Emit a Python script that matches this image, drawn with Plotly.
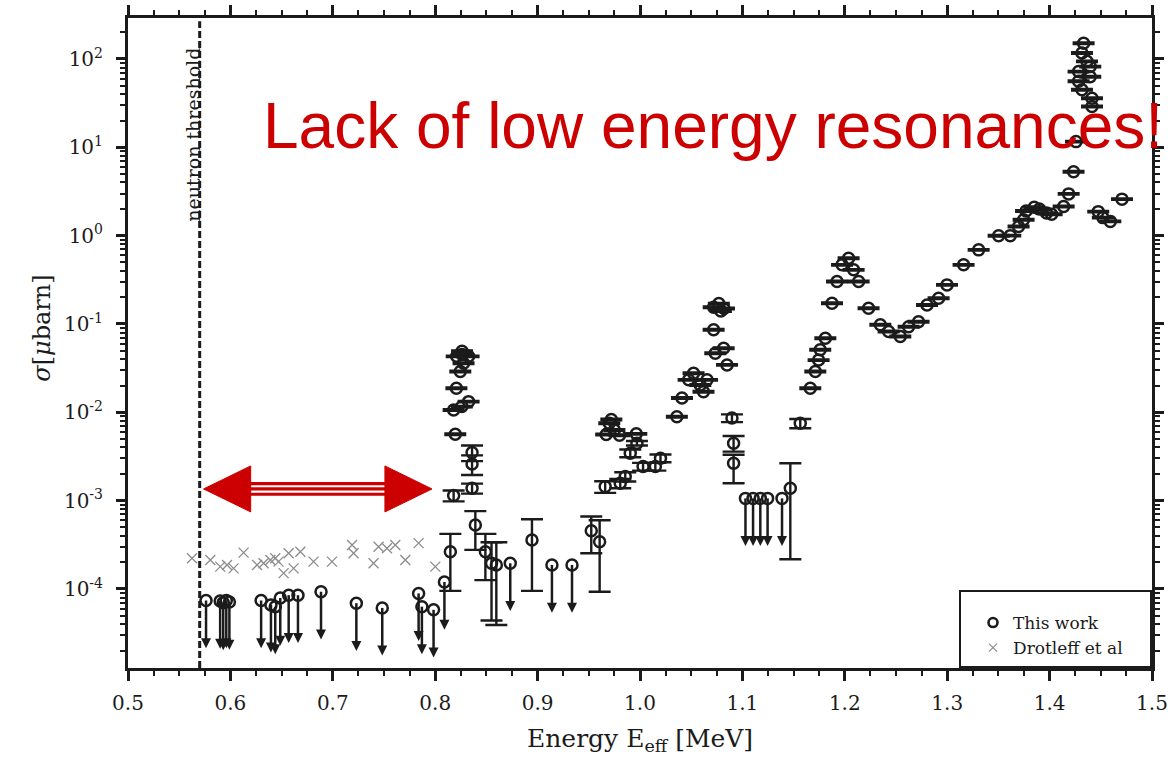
import plotly.graph_objects as go

# ---------------------------------------------------------------------------
# Data: cross section sigma [micro-barn] versus effective energy [MeV]
# ---------------------------------------------------------------------------

# This work: resolved points with small (symmetric, relative) uncertainties
tw_energy = [0.818, 0.836, 0.836, 0.836, 0.8196, 0.818, 0.826, 0.8326, 0.8207, 0.8245,
             0.8277, 0.821, 0.8262, 0.8326, 0.8262,
             0.966, 0.9807, 0.9856, 1.003, 1.015, 1.020, 0.9905, 0.997, 0.9964, 0.967,
             0.970, 0.972, 0.975, 0.980,
             1.036, 1.041, 1.0475, 1.0523, 1.0589, 1.062, 1.0655, 1.0719, 1.0735, 1.0817,
             1.085, 1.072, 1.077, 1.082, 1.079, 1.0898,
             1.1565, 1.1663, 1.1712, 1.1744, 1.176, 1.181, 1.1875, 1.1924, 1.1973, 1.2037,
             1.2086, 1.2135, 1.2232, 1.2347, 1.2428, 1.2542, 1.2623, 1.272, 1.2803, 1.2916,
             1.2998, 1.316, 1.3307, 1.3502, 1.3616, 1.3697, 1.3746, 1.377, 1.385, 1.390,
             1.397, 1.402, 1.4137, 1.4186, 1.4234, 1.4258, 1.4283, 1.4283, 1.4316, 1.4316,
             1.4332, 1.4365, 1.4397, 1.4397, 1.4414, 1.4414, 1.4475, 1.452, 1.4593, 1.4707]
tw_sigma = [1.14e-3, 1.38e-3, 2.6e-3, 3.5e-3, 5.65e-3, 1.06e-2, 1.16e-2, 1.32e-2, 1.87e-2, 2.89e-2,
            3.6e-2, 4.3e-2, 4.5e-2, 4.3e-2, 4.9e-2,
            1.44e-3, 1.57e-3, 1.87e-3, 2.43e-3, 2.43e-3, 3.02e-3, 3.44e-3, 4.47e-3, 5.7e-3, 5.6e-3,
            7.5e-3, 8.3e-3, 6.3e-3, 5.5e-3,
            8.9e-3, 1.45e-2, 2.33e-2, 2.77e-2, 2.04e-2, 1.71e-2, 2.33e-2, 8.6e-2, 4.66e-2, 5.3e-2,
            3.44e-2, 0.155, 0.17, 0.15, 0.14, 8.6e-3,
            7.5e-3, 1.87e-2, 2.89e-2, 3.9e-2, 5.1e-2, 6.9e-2, 0.172, 0.302, 0.467, 0.556,
            0.41, 0.302, 0.151, 0.098, 0.082, 0.072, 0.093, 0.106, 0.164, 0.196,
            0.277, 0.467, 0.69, 0.995, 1.0, 1.27, 1.51, 1.9, 2.1, 2.0,
            1.8, 1.75, 2.14, 2.97, 5.3, 11.6, 56.0, 72.0, 44.8, 117.0,
            151.0, 94.0, 82.0, 63.0, 36.0, 29.0, 1.87, 1.6, 1.45, 2.59]
tw_rel_err = [0.14, 0.13, 0.25, 0.20, 0.02, 0.02, 0.02, 0.02, 0.02, 0.02,
              0.02, 0.02, 0.02, 0.02, 0.02,
              0.15, 0.12, 0.12, 0.10, 0.10, 0.10, 0.10, 0.06, 0.02, 0.02,
              0.02, 0.02, 0.02, 0.02,
              0.02, 0.02, 0.02, 0.02, 0.02, 0.02, 0.02, 0.02, 0.02, 0.02,
              0.02, 0.02, 0.02, 0.02, 0.02, 0.10,
              0.12, 0.02, 0.02, 0.02, 0.02, 0.02, 0.02, 0.02, 0.02, 0.02,
              0.02, 0.02, 0.02, 0.02, 0.02, 0.02, 0.02, 0.02, 0.02, 0.02,
              0.02, 0.02, 0.02, 0.02, 0.02, 0.02, 0.02, 0.02, 0.02, 0.02,
              0.02, 0.02, 0.02, 0.02, 0.02, 0.02, 0.02, 0.02, 0.02, 0.02,
              0.02, 0.02, 0.02, 0.02, 0.02, 0.02, 0.02, 0.02, 0.02, 0.02]

# This work: weak points with large, asymmetric uncertainties
wk_energy = [0.8148, 0.8392, 0.849, 0.855, 0.8597, 0.8945, 0.9524, 0.9606, 1.0914, 1.0914, 1.1468]
wk_sigma = [2.64e-4, 5.3e-4, 2.64e-4, 1.95e-4, 1.87e-4, 3.59e-4, 4.57e-4, 3.43e-4, 4.47e-3, 2.65e-3, 1.38e-3]
wk_upper = [4.2e-4, 7.6e-4, 4.2e-4, 3.38e-4, 3.38e-4, 6.15e-4, 6.6e-4, 6.0e-4, 5.4e-3, 3.3e-3, 2.65e-3]
wk_lower = [9.5e-5, 2.77e-4, 1.26e-4, 4.4e-5, 3.9e-5, 9.5e-5, 2.54e-4, 9.3e-5, 3.59e-3, 1.57e-3, 2.17e-4]

# This work: upper limits
ul_energy = [0.5762, 0.590, 0.593, 0.596, 0.599, 0.630, 0.6396, 0.6438, 0.6487, 0.6569,
             0.666, 0.6885, 0.723, 0.7483, 0.7838, 0.787, 0.7984, 0.809, 0.8733, 0.914,
             0.9336, 1.103, 1.1104, 1.1175, 1.1246, 1.1387]
ul_sigma = [7.4e-5, 7.3e-5, 7.0e-5, 7.4e-5, 7.1e-5, 7.4e-5, 6.6e-5, 6.3e-5, 7.9e-5, 8.5e-5,
            8.5e-5, 9.3e-5, 6.9e-5, 6.1e-5, 8.9e-5, 6.3e-5, 5.8e-5, 1.2e-4, 1.95e-4, 1.87e-4,
            1.87e-4, 1.06e-3, 1.06e-3, 1.06e-3, 1.06e-3, 1.06e-3]

# Drotleff et al
dr_energy = [0.5625, 0.5804, 0.5901, 0.5967, 0.6031, 0.6129, 0.626, 0.6324, 0.639, 0.6438,
             0.647, 0.652, 0.6569, 0.6617, 0.6683, 0.6812, 0.6992, 0.7188, 0.7203, 0.7398,
             0.7447, 0.7529, 0.761, 0.7708, 0.7838, 0.8001]
dr_sigma = [2.23e-4, 2.13e-4, 1.79e-4, 1.87e-4, 1.71e-4, 2.58e-4, 1.87e-4, 1.95e-4, 2.13e-4, 2.23e-4,
            2.04e-4, 1.51e-4, 2.54e-4, 1.71e-4, 2.64e-4, 2.04e-4, 2.04e-4, 3.15e-4, 2.54e-4, 1.95e-4,
            3.01e-4, 2.89e-4, 3.15e-4, 2.13e-4, 3.3e-4, 1.79e-4]

NEUTRON_THRESHOLD = 0.57          # MeV
GAP_FROM, GAP_TO = 0.5738, 0.7969  # MeV, span of the red double arrow

y_exponents = [-4, -3, -2, -1, 0, 1, 2]
y_tickvals = [10.0 ** e for e in y_exponents]
y_ticktext = ["10<sup>%d</sup>" % e for e in y_exponents]

# ---------------------------------------------------------------------------
# Style
# ---------------------------------------------------------------------------
INK = "#1b1b1b"
GREY = "#8c8c8c"
RED = "#cc0000"
SERIF = "DejaVu Serif"
SANS = "Liberation Sans"
NBSP = "\u00a0"

UL_STEM = 10 ** -0.47   # length of the upper-limit stem (factor below the limit)
UL_TIP = 10 ** -0.54    # arrow tip position (factor below the limit)

circle = dict(symbol="circle-open", size=11, color=INK, line=dict(width=2.5, color=INK))
bar_style = dict(thickness=2.4, width=11, color=INK)

fig = go.Figure()

fig.add_trace(go.Scatter(
    x=dr_energy, y=dr_sigma, mode="markers", showlegend=False,
    marker=dict(symbol="x-thin-open", size=10, color=GREY, line=dict(width=1.3, color=GREY)),
))

# upper limits: circle, stem and arrow head
fig.add_trace(go.Scatter(
    x=ul_energy, y=ul_sigma, mode="markers", showlegend=False, marker=circle,
    error_y=dict(type="data", symmetric=False, array=[0.0] * len(ul_sigma),
                 arrayminus=[s * (1 - UL_STEM) for s in ul_sigma],
                 thickness=2.5, width=0, color=INK),
))
fig.add_trace(go.Scatter(
    x=ul_energy, y=[s * UL_TIP for s in ul_sigma], mode="markers", showlegend=False,
    marker=dict(symbol="arrow-down", size=10, color=INK, line=dict(width=0)),
))

fig.add_trace(go.Scatter(
    x=wk_energy, y=wk_sigma, mode="markers", showlegend=False, marker=circle,
    error_y=dict(type="data", symmetric=False,
                 array=[u - s for u, s in zip(wk_upper, wk_sigma)],
                 arrayminus=[s - l for s, l in zip(wk_sigma, wk_lower)], **bar_style),
))

fig.add_trace(go.Scatter(
    x=tw_energy, y=tw_sigma, mode="markers", showlegend=False, marker=circle,
    error_y=dict(type="data", array=[s * r for s, r in zip(tw_sigma, tw_rel_err)], **bar_style),
))

# legend entries
fig.add_trace(go.Scatter(x=[None], y=[None], mode="markers", name="This work",
                         marker=dict(symbol="circle-open", size=9, color=INK,
                                     line=dict(width=2.6, color=INK))))
fig.add_trace(go.Scatter(x=[None], y=[None], mode="markers", name="Drotleff et al" + NBSP * 4,
                         marker=dict(symbol="x-thin-open", size=8, color=GREY,
                                     line=dict(width=1.2, color=GREY))))

# neutron threshold
fig.add_shape(type="line", xref="x", yref="paper", x0=NEUTRON_THRESHOLD, x1=NEUTRON_THRESHOLD,
              y0=0, y1=0.995, line=dict(color=INK, width=3, dash="7px,3px"))
fig.add_annotation(text="neutron threshold", xref="x", yref="paper", x=NEUTRON_THRESHOLD,
                   y=0.82, xshift=-7, xanchor="center", yanchor="middle", textangle=-90,
                   showarrow=False, font=dict(family=SERIF, size=19, color=INK))

# red double arrow over the gap without resonances
ARROW_Y = 0.2755
HEAD_LEN = 0.046
HEAD_HALF = 23
for off in (-5.3, 0.0, 5.3):
    fig.add_shape(type="line", xref="x", yref="paper", ysizemode="pixel", yanchor=ARROW_Y,
                  x0=GAP_FROM + HEAD_LEN - 0.002, x1=GAP_TO - HEAD_LEN + 0.002, y0=off, y1=off,
                  line=dict(color=RED, width=3.2))
for tip, sgn in ((GAP_FROM, 1), (GAP_TO, -1)):
    base = tip + sgn * HEAD_LEN
    fig.add_shape(type="path", xref="x", yref="paper", ysizemode="pixel", yanchor=ARROW_Y,
                  path=f"M {tip},0 L {base},{HEAD_HALF} L {base},{-HEAD_HALF} Z",
                  fillcolor=RED, line=dict(color=RED, width=1))

fig.add_annotation(text="Lack of low energy resonances!", xref="paper", yref="paper",
                   x=0.1295, y=0.8342, xanchor="left", yanchor="middle", showarrow=False,
                   font=dict(family=SANS, size=64, color=RED))

# axis titles
fig.add_annotation(text="Energy E<sub>eff</sub> [MeV]", xref="paper", yref="paper",
                   x=0.5, y=-0.1108, xanchor="center", yanchor="middle", showarrow=False,
                   font=dict(family=SERIF, size=25, color=INK))
fig.add_annotation(text="<i>σ</i>[<i>μ</i>barn]", xref="paper", yref="paper",
                   x=-0.0843, y=0.523, xanchor="center", yanchor="middle", textangle=-90,
                   showarrow=False, font=dict(family=SERIF, size=24, color=INK))

axis_common = dict(ticks="outside", tickwidth=2.5, tickcolor=INK, showline=True, linewidth=3,
                   linecolor=INK, mirror="ticks", showgrid=False, zeroline=False,
                   automargin=False, tickfont=dict(family=SERIF, size=20, color=INK))

fig.update_layout(
    width=1168, height=769,
    margin=dict(l=128, r=16, t=18, b=101, autoexpand=False),
    paper_bgcolor="white", plot_bgcolor="white",
    font=dict(family=SERIF, color=INK),
    xaxis=dict(range=[0.5, 1.5], tickmode="linear", tick0=0.5, dtick=0.1, tickformat=".1f",
               ticklen=10, ticklabelstandoff=5,
               minor=dict(ticks="outside", ticklen=5, tickwidth=2, dtick=0.025, tickcolor=INK,
                          showgrid=False),
               **axis_common),
    yaxis=dict(type="log", range=[-4.895, 2.464], tickmode="array", tickvals=y_tickvals,
               ticktext=y_ticktext, ticklen=9, ticklabelstandoff=9,
               minor=dict(ticks="outside", ticklen=5, tickwidth=2, dtick="D1", tickcolor=INK,
                          showgrid=False),
               **axis_common),
    legend=dict(x=1, xanchor="right", y=0, yanchor="bottom", bordercolor=INK, borderwidth=2,
                bgcolor="white", font=dict(family=SERIF, size=17, color=INK), indentation=12,
                title=dict(text=" ", font=dict(size=10))),
)

fig.write_html("out.html")
